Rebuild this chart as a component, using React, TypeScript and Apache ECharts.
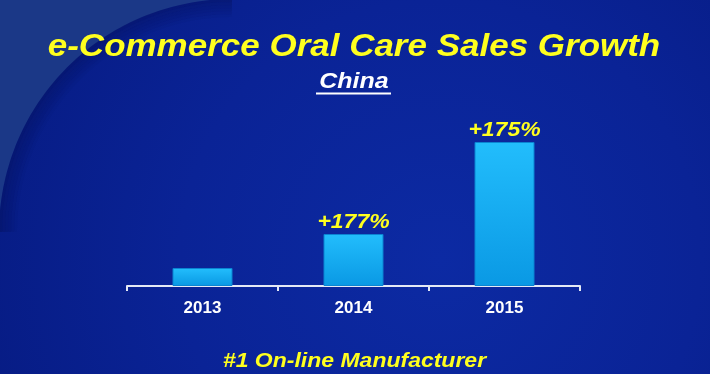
import React, { useEffect, useRef } from "react";
import * as echarts from "echarts";

const categories = ["2013", "2014", "2015"];
const salesValues = [18, 52, 144];
const growthLabels = ["", "+177%", "+175%"];
const titleText = "e-Commerce Oral Care Sales Growth";
const subtitleText = "China";
const footerText = "#1 On-line Manufacturer";

const FONT = '"Liberation Sans", Arial, sans-serif';
const YELLOW = "#ffff1e";

const bgGradient = {
  type: "radial",
  x: 440,
  y: 260,
  r: 520,
  global: true,
  colorStops: [
    { offset: 0, color: "#0c2aa3" },
    { offset: 0.5, color: "#0a2396" },
    { offset: 1, color: "#061a80" },
  ],
};

export default function App() {
  const ref = useRef<HTMLDivElement>(null);
  useEffect(() => {
    if (!ref.current) return;
    const chart = echarts.init(ref.current, null, { renderer: "svg" });
    const cx = 232, cy = 232, R = 233;
    const shadowArcs = [0, 1, 2, 3, 4, 5].map((k) => ({
      type: "arc",
      silent: true,
      shape: { cx, cy, r: R - 1.5 - k * 3, startAngle: Math.PI, endAngle: Math.PI * 1.5, clockwise: true },
      style: { stroke: `rgba(2,10,70,${0.3 - k * 0.05})`, lineWidth: 3, fill: null },
      z: -8,
    }));
    chart.setOption({
      animation: false,
      grid: { left: 127, right: 130, top: 126, bottom: 88 },
      xAxis: {
        type: "category",
        data: categories,
        boundaryGap: true,
        axisLine: { lineStyle: { color: "#e4e9f5", width: 2 } },
        axisTick: { show: true, length: 5, lineStyle: { color: "#e4e9f5", width: 2 } },
        axisLabel: { color: "#ffffff", fontWeight: "bold", fontSize: 17, fontFamily: FONT, margin: 13 },
      },
      yAxis: { type: "value", min: 0, max: 160, show: false, splitLine: { show: false } },
      series: [
        {
          type: "bar",
          data: salesValues,
          barWidth: 60,
          itemStyle: {
            color: new echarts.graphic.LinearGradient(0, 0, 0, 1, [
              { offset: 0, color: "#22bdfc" },
              { offset: 1, color: "#0a99e4" },
            ]),
            borderColor: "#0b84d2",
            borderWidth: 1,
          },
          z: 2,
        },
        {
          type: "custom",
          silent: true,
          z: 3,
          data: categories.map((c, i) => [i, salesValues[i]]),
          renderItem: (params: any, api: any) => {
            const p = api.coord([api.value(0), api.value(1)]);
            return {
              type: "text",
              x: p[0],
              y: p[1] - 12,
              scaleY: 0.86,
              style: {
                text: growthLabels[params.dataIndex],
                x: 0,
                y: 0,
                fill: YELLOW,
                font: `italic bold 23px ${FONT}`,
                textAlign: "center",
                textVerticalAlign: "middle",
              },
            };
          },
        },
      ],
      graphic: [
        { type: "rect", silent: true, z: -10, shape: { x: 0, y: 0, width: 710, height: 374 }, style: { fill: bgGradient } },
        { type: "rect", silent: true, z: -9, shape: { x: 0, y: 0, width: 236, height: 236 }, style: { fill: "#1b3887" } },
        { type: "circle", silent: true, z: -9, shape: { cx, cy, r: R }, style: { fill: bgGradient } },
        ...shadowArcs,
        {
          type: "text",
          silent: true,
          z: 10,
          x: 354,
          y: 45,
          scaleY: 0.9,
          style: { text: titleText, x: 0, y: 0, fill: YELLOW, font: `italic bold 35px ${FONT}`, textAlign: "center", textVerticalAlign: "middle" },
        },
        {
          type: "text",
          silent: true,
          z: 10,
          x: 354,
          y: 81,
          scaleY: 0.88,
          style: { text: subtitleText, x: 0, y: 0, fill: "#ffffff", font: `italic bold 25px ${FONT}`, textAlign: "center", textVerticalAlign: "middle" },
        },
        {
          type: "line",
          silent: true,
          z: 10,
          shape: { x1: 316, y1: 93.5, x2: 391, y2: 93.5 },
          style: { stroke: "#ffffff", lineWidth: 2 },
        },
        {
          type: "text",
          silent: true,
          z: 10,
          x: 354.5,
          y: 359.5,
          scaleY: 0.9,
          style: { text: footerText, x: 0, y: 0, fill: YELLOW, font: `italic bold 23px ${FONT}`, textAlign: "center", textVerticalAlign: "middle" },
        },
      ],
    });
    return () => chart.dispose();
  }, []);
  return <div ref={ref} style={{ position: "fixed", left: 0, top: 0, width: 710, height: 374 }} />;
}
